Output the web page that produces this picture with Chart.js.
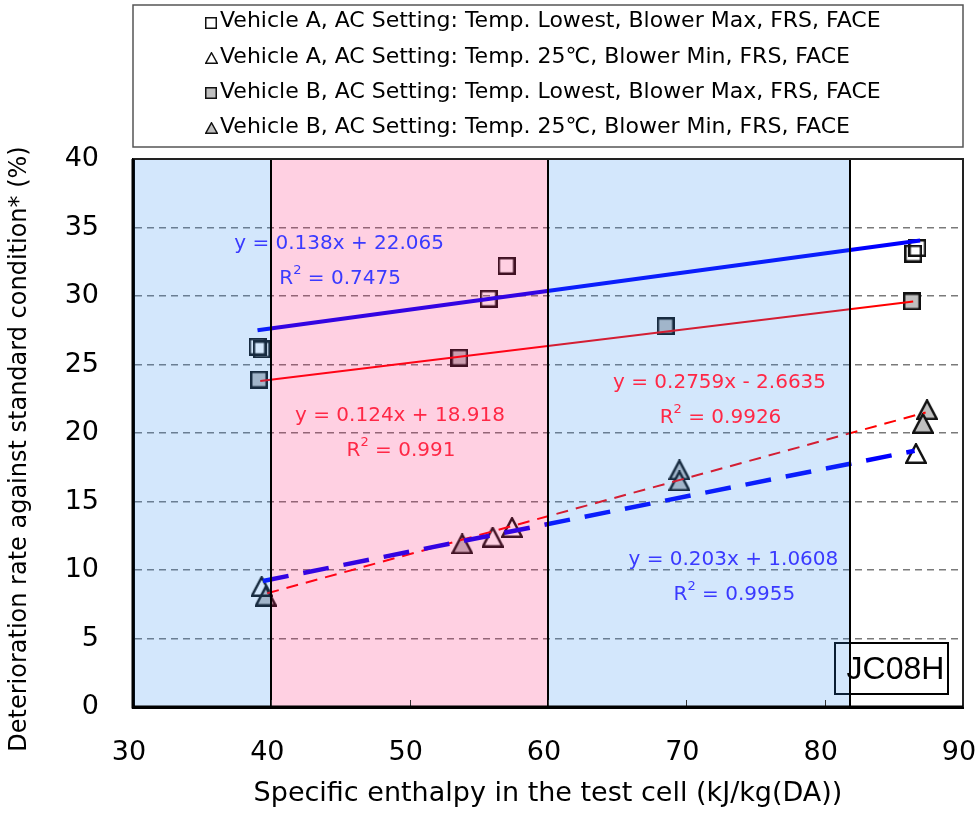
<!DOCTYPE html>
<html>
<head>
  <title>Deterioration rate vs specific enthalpy</title>
  <style>
    body { margin: 0; background: #fff; }
    #wrap { position: relative; width: 976px; height: 815px; }
  </style>
</head>
<body>
  <div id="wrap"><canvas id="chart" width="976" height="815"></canvas></div>

  <script src="https://cdn.jsdelivr.net/npm/chart.js"></script>
  <script>
    // series names (legend order)
    const seriesNames = [
      'Vehicle A, AC Setting: Temp. Lowest, Blower Max, FRS, FACE',
      'Vehicle A, AC Setting: Temp. 25\u2103, Blower Min, FRS, FACE',
      'Vehicle B, AC Setting: Temp. Lowest, Blower Max, FRS, FACE',
      'Vehicle B, AC Setting: Temp. 25\u2103, Blower Min, FRS, FACE'
    ];

    // measured points (x = specific enthalpy, y = deterioration rate %)
    const vaLowX = [39.0, 39.3, 55.7, 57.0, 86.7, 86.4];
    const vaLowY = [26.3, 26.1, 29.8, 32.2, 33.5, 33.1];
    const va25X = [39.3, 56.0, 57.4, 86.6];
    const va25Y = [8.8, 12.4, 13.1, 18.5];
    const vbLowX = [39.1, 53.6, 68.5, 86.3];
    const vbLowY = [23.9, 25.5, 27.8, 29.6];
    const vb25X = [39.6, 53.8, 69.5, 69.5, 87.4, 87.1];
    const vb25Y = [8.1, 11.9, 17.3, 16.5, 21.7, 20.7];

    // trend line end points
    const vaLowFitX = [39.0, 86.9];
    const vaLowFitY = [27.5, 34.05];
    const vbLowFitX = [39.2, 86.4];
    const vbLowFitY = [23.8, 29.6];
    const va25FitX = [39.4, 86.5];
    const va25FitY = [9.2, 18.7];
    const vb25FitX = [39.7, 87.3];
    const vb25FitY = [8.3, 21.5];

    // trend labels
    const fitEquations = ['y = 0.138x + 22.065', 'y = 0.124x + 18.918', 'y = 0.2759x - 2.6635', 'y = 0.203x + 1.0608'];
    const fitR2 = ['0.7475', '0.991', '0.9926', '0.9955'];
    const fitLabelX = [44.9, 49.3, 72.4, 73.4];
    const fitLabelY = [33.8, 21.25, 23.7, 10.75];

    // enthalpy bands (blue, pink, blue) and the mode name
    const bandEdges = [30, 40, 60, 81.8];
    const modeName = 'JC08H';

    const xTicks = [30, 40, 50, 60, 70, 80, 90];
    const yTitle = 'Deterioration rate against standard condition* (%)';

    const FONT = '"DejaVu Sans", sans-serif';
    const BLUE_TXT = '#3a3aff';
    const RED_TXT = '#ff2846';
    const bandFill = ['rgba(45,140,240,0.21)', 'rgba(255,20,110,0.2)', 'rgba(45,140,240,0.21)'];

    function makeMarker(shape, fill, w, h, lw) {
      const c = document.createElement('canvas');
      c.width = w; c.height = h;
      const g = c.getContext('2d');
      const p = lw / 2;
      g.beginPath();
      if (shape === 'square') {
        g.rect(p, p, w - lw, h - lw);
      } else {
        g.moveTo(w / 2, p);
        g.lineTo(w - p, h - p);
        g.lineTo(p, h - p);
        g.closePath();
      }
      if (fill) { g.fillStyle = fill; g.fill(); }
      g.lineWidth = lw;
      g.strokeStyle = '#111';
      g.stroke();
      return c;
    }

    const GRAY = '#c0c0c0';
    const plotMarkers = [
      makeMarker('square', null, 18, 18, 2.5),
      makeMarker('triangle', null, 22, 21, 2.5),
      makeMarker('square', GRAY, 18, 18, 2.5),
      makeMarker('triangle', GRAY, 22, 21, 2.5)
    ];
    const legendMarkers = [
      makeMarker('square', null, 12, 12, 1.5),
      makeMarker('triangle', null, 13, 12, 1.5),
      makeMarker('square', GRAY, 12, 12, 1.5),
      makeMarker('triangle', GRAY, 13, 12, 1.5)
    ];

    const toPts = (xs, ys) => xs.map((x, i) => ({ x: x, y: ys[i] }));

    function pointSet(i, xs, ys) {
      return {
        label: seriesNames[i],
        data: toPts(xs, ys),
        pointStyle: plotMarkers[i],
        pointRadius: 6,
        showLine: false,
        order: 1
      };
    }
    function fitSet(xs, ys, color, width, dash) {
      return {
        label: 'fit',
        data: toPts(xs, ys),
        showLine: true,
        pointRadius: 0,
        borderColor: color,
        borderWidth: width,
        borderDash: dash,
        fill: false,
        order: 0
      };
    }

    function drawR2(ctx, x, y, val, color) {
      const parts = [['R', '20px ' + FONT, 0], ['2', '13px ' + FONT, -8], [' = ' + val, '20px ' + FONT, 0]];
      let total = 0;
      parts.forEach(p => { ctx.font = p[1]; total += ctx.measureText(p[0]).width; });
      let cx = x - total / 2;
      ctx.textAlign = 'left';
      ctx.fillStyle = color;
      parts.forEach(p => {
        ctx.font = p[1];
        ctx.fillText(p[0], cx, y + p[2]);
        cx += ctx.measureText(p[0]).width;
      });
    }

    const decorations = {
      id: 'decorations',
      afterDatasetsDraw(chart) {
        const ctx = chart.ctx;
        const a = chart.chartArea;
        const xs = chart.scales.x, ys = chart.scales.y;
        ctx.save();

        // mode box (under the band shading)
        const bx = a.right - 128, by = a.bottom - 64, bw = 113, bh = 51;
        ctx.fillStyle = '#fff';
        ctx.fillRect(bx, by, bw, bh);
        ctx.lineWidth = 2;
        ctx.strokeStyle = '#000';
        ctx.strokeRect(bx, by, bw, bh);

        // shaded bands
        for (let i = 0; i < bandFill.length; i++) {
          const x1 = xs.getPixelForValue(bandEdges[i]);
          const x2 = xs.getPixelForValue(bandEdges[i + 1]);
          ctx.fillStyle = bandFill[i];
          ctx.fillRect(x1, a.top, x2 - x1, a.bottom - a.top);
        }

        // band boundaries
        ctx.strokeStyle = '#000';
        ctx.lineWidth = 2;
        bandEdges.slice(1).forEach(v => {
          const x = Math.round(xs.getPixelForValue(v));
          ctx.beginPath();
          ctx.moveTo(x, a.top);
          ctx.lineTo(x, a.bottom);
          ctx.stroke();
        });

        // inner tick marks on x axis
        ctx.lineWidth = 1;
        ctx.strokeStyle = '#333';
        xTicks.forEach(v => {
          const x = Math.round(xs.getPixelForValue(v)) + 0.5;
          ctx.beginPath();
          ctx.moveTo(x, a.bottom);
          ctx.lineTo(x, a.bottom - 7);
          ctx.stroke();
        });

        // plot frame
        ctx.strokeStyle = '#222';
        ctx.lineWidth = 2;
        ctx.beginPath();
        ctx.moveTo(a.left, a.top);
        ctx.lineTo(a.right, a.top);
        ctx.lineTo(a.right, a.bottom);
        ctx.stroke();
        ctx.strokeStyle = '#000';
        ctx.lineWidth = 3;
        ctx.beginPath();
        ctx.moveTo(a.left, a.top);
        ctx.lineTo(a.left, a.bottom);
        ctx.lineTo(a.right, a.bottom);
        ctx.stroke();

        // trend equations
        ctx.textBaseline = 'middle';
        const colors = [BLUE_TXT, RED_TXT, RED_TXT, BLUE_TXT];
        fitEquations.forEach((eq, i) => {
          const x = xs.getPixelForValue(fitLabelX[i]);
          const y = ys.getPixelForValue(fitLabelY[i]);
          ctx.font = '20px ' + FONT;
          ctx.textAlign = 'center';
          ctx.fillStyle = colors[i];
          ctx.fillText(eq, x, y);
          drawR2(ctx, x + 1, y + 35, fitR2[i], colors[i]);
        });

        // mode name
        ctx.font = '32px "Liberation Sans", Arial, sans-serif';
        ctx.fillStyle = '#000';
        ctx.textAlign = 'center';
        ctx.fillText(modeName, bx + bw / 2 + 4, by + bh / 2 + 2);
        ctx.restore();
      },
      afterDraw(chart) {
        const ctx = chart.ctx;
        const a = chart.chartArea;
        ctx.save();

        // y axis title, centred a little below the plot middle as in the original
        ctx.translate(20, (a.top + a.bottom) / 2 + 16);
        ctx.rotate(-Math.PI / 2);
        ctx.font = '24px ' + FONT;
        ctx.fillStyle = '#000';
        ctx.textAlign = 'center';
        ctx.textBaseline = 'middle';
        ctx.fillText(yTitle, 0, 0);
        ctx.setTransform(1, 0, 0, 1, 0, 0);

        // legend
        ctx.strokeStyle = '#555';
        ctx.lineWidth = 1.5;
        ctx.strokeRect(a.left, 5, a.right - a.left, 142);
        ctx.font = '22px ' + FONT;
        ctx.textAlign = 'left';
        seriesNames.forEach((name, i) => {
          const y = 21.5 + i * 35.3;
          const m = legendMarkers[i];
          ctx.drawImage(m, Math.round(211 - m.width / 2), Math.round(y - m.height / 2 + 1));
          ctx.fillText(name, 220, y);
        });
        ctx.restore();
      }
    };

    new Chart(document.getElementById('chart'), {
      type: 'scatter',
      data: {
        datasets: [
          pointSet(0, vaLowX, vaLowY),
          pointSet(1, va25X, va25Y),
          pointSet(2, vbLowX, vbLowY),
          pointSet(3, vb25X, vb25Y),
          fitSet(vaLowFitX, vaLowFitY, '#0000ff', 4, []),
          fitSet(vbLowFitX, vbLowFitY, '#ff0000', 2, []),
          fitSet(va25FitX, va25FitY, '#0000ff', 4.5, [26, 15]),
          fitSet(vb25FitX, vb25FitY, '#ff0000', 2, [12, 8])
        ]
      },
      options: {
        responsive: false,
        animation: false,
        layout: { padding: { top: 159, right: 13, left: 0, bottom: 0 } },
        plugins: {
          legend: { display: false },
          tooltip: { enabled: false }
        },
        scales: {
          x: {
            type: 'linear',
            min: 30,
            max: 90,
            ticks: { stepSize: 10, color: '#000', font: { family: FONT, size: 27 }, padding: 30, labelOffset: -4 },
            grid: { display: false, drawTicks: false },
            border: { display: true, color: '#000', width: 3 },
            title: {
              display: true,
              text: 'Specific enthalpy in the test cell (kJ/kg(DA))',
              color: '#000',
              font: { family: FONT, size: 27 },
              padding: { top: 0, bottom: 5 }
            },
            afterFit(s) { s.height = 108; s.paddingLeft = 0; s.paddingRight = 0; }
          },
          y: {
            min: 0,
            max: 40,
            ticks: { stepSize: 5, color: '#000', font: { family: FONT, size: 27 }, padding: 34 },
            grid: {
              drawTicks: false,
              lineWidth: 1.5,
              color: c => (c.tick && (c.tick.value === 0 || c.tick.value === 40)) ? 'rgba(0,0,0,0)' : '#7a7a7a'
            },
            border: { display: true, color: '#000', width: 3, dash: [7, 5] },
            title: { display: false },
            afterFit(s) { s.width = 133; s.paddingTop = 0; s.paddingBottom = 0; }
          }
        }
      },
      plugins: [decorations]
    });
  </script>
</body>
</html>
